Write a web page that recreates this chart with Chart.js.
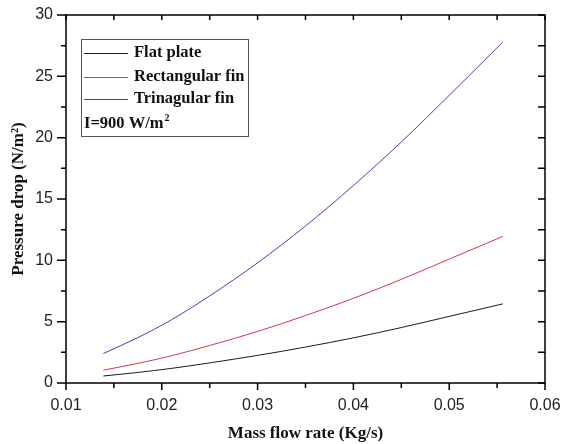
<!DOCTYPE html>
<html>
<head>
<meta charset="utf-8">
<script src="https://cdn.jsdelivr.net/npm/chart.js@4"></script>
<style>
  body { margin: 0; background: #fff; }
  #wrap { width: 573px; height: 444px; }
</style>
</head>
<body>
<div id="wrap"><canvas id="dropChart" width="573" height="444"></canvas></div>
<script>
// values
const massFlow = [0.0139, 0.0175, 0.021, 0.025, 0.03, 0.035, 0.04, 0.045, 0.05, 0.0556];
const flatPlate = [0.57, 0.86, 1.19, 1.64, 2.25, 2.93, 3.68, 4.52, 5.43, 6.45];
const rectFin = [1.05, 1.6, 2.22, 3.06, 4.2, 5.5, 6.9, 8.45, 10.1, 11.95];
const triFin = [2.4, 3.7, 5.15, 7.1, 9.8, 12.8, 16.1, 19.65, 23.45, 27.8];
const seriesNames = ['Flat plate', 'Rectangular fin', 'Trinagular fin'];
const seriesColors = ['#1a1a1a', '#d03a46', '#4040b8'];
const xTicks = [0.01, 0.02, 0.03, 0.04, 0.05, 0.06];
const yTicks = [0, 5, 10, 15, 20, 25, 30];

const serif = "'Liberation Serif', 'Times New Roman', serif";
const sans = "'Liberation Sans', Arial, sans-serif";

function pts(vals) {
  return massFlow.map((m, i) => ({ x: m, y: vals[i] }));
}

// frame + major/minor tick marks (Origin style)
const frameTicks = {
  id: 'frameTicks',
  afterDraw(c) {
    const { ctx, chartArea: { left, right, top, bottom }, scales: { x, y } } = c;
    ctx.save();
    ctx.strokeStyle = '#000';
    ctx.lineWidth = 1.5;
    ctx.strokeRect(left, top, right - left, bottom - top);
    ctx.beginPath();
    for (let i = 0; i < yTicks.length; i++) {
      const vals = [yTicks[i]];
      if (i < yTicks.length - 1) vals.push((yTicks[i] + yTicks[i + 1]) / 2);
      vals.forEach((v, k) => {
        const py = y.getPixelForValue(v);
        const len = k === 0 ? 9 : 5;
        ctx.moveTo(left - len, py); ctx.lineTo(left, py);
        ctx.moveTo(right - 7, py); ctx.lineTo(right, py);
      });
    }
    for (let i = 0; i < xTicks.length; i++) {
      const vals = [xTicks[i]];
      if (i < xTicks.length - 1) vals.push((xTicks[i] + xTicks[i + 1]) / 2);
      vals.forEach((v, k) => {
        const px = x.getPixelForValue(v);
        const len = k === 0 ? 7 : 5;
        ctx.moveTo(px, bottom); ctx.lineTo(px, bottom + len);
        ctx.moveTo(px, top); ctx.lineTo(px, top + 5);
      });
    }
    ctx.stroke();
    ctx.restore();
  }
};

// boxed legend in the upper left corner
const boxLegend = {
  id: 'boxLegend',
  afterDraw(c) {
    const { ctx, chartArea: { left, top } } = c;
    const bx = left + 15, by = top + 24;
    ctx.save();
    ctx.strokeStyle = '#555';
    ctx.lineWidth = 1;
    ctx.strokeRect(bx + 0.5, by + 0.5, 167, 97);
    const rows = [14, 38, 60];
    seriesNames.forEach((name, i) => {
      const ry = by + rows[i];
      ctx.strokeStyle = seriesColors[i];
      ctx.lineWidth = 1;
      ctx.beginPath();
      ctx.moveTo(bx + 3, ry + 0.5);
      ctx.lineTo(bx + 47, ry + 0.5);
      ctx.stroke();
    });
    ctx.font = 'bold 16.5px ' + serif;
    ctx.fillStyle = '#111';
    ctx.textBaseline = 'middle';
    seriesNames.forEach((name, i) => {
      ctx.fillText(name, bx + 53, by + rows[i]);
    });
    const iy = by + 85;
    ctx.fillText('I=900 W/m', bx + 3, iy);
    const w = ctx.measureText('I=900 W/m').width;
    ctx.font = 'bold 10px ' + serif;
    ctx.fillText('2', bx + 3 + w + 1, iy - 6);
    ctx.restore();
  }
};

new Chart(document.getElementById('dropChart').getContext('2d'), {
  type: 'line',
  data: {
    datasets: [flatPlate, rectFin, triFin].map((vals, i) => ({
      label: seriesNames[i],
      data: pts(vals),
      borderColor: seriesColors[i],
      borderWidth: 1,
      pointRadius: 0,
      fill: false,
      cubicInterpolationMode: 'monotone'
    }))
  },
  options: {
    responsive: false,
    animation: false,
    layout: { padding: { left: 0, right: 28, top: 15, bottom: 0 } },
    plugins: { legend: { display: false }, tooltip: { enabled: false } },
    scales: {
      x: {
        type: 'linear', min: 0.01, max: 0.06,
        grid: { display: false }, border: { display: false },
        afterBuildTicks: s => { s.ticks = xTicks.map(v => ({ value: v })); },
        ticks: {
          callback: v => v.toFixed(2), maxRotation: 0,
          font: { family: sans, size: 16 }, color: '#222', padding: 5
        },
        title: {
          display: true, text: 'Mass flow rate (Kg/s)', color: '#111',
          font: { family: serif, size: 17, weight: 'bold' }, padding: { top: 4, bottom: 0 }
        },
        afterFit: s => { s.height = 61; }
      },
      y: {
        type: 'linear', min: 0, max: 30,
        grid: { display: false }, border: { display: false },
        afterBuildTicks: s => { s.ticks = yTicks.map(v => ({ value: v })); },
        ticks: { font: { family: sans, size: 16 }, color: '#222', padding: 5 },
        title: {
          display: true, text: 'Pressure drop (N/m\u00b2)', color: '#111',
          font: { family: serif, size: 17, weight: 'bold' }, padding: { top: 8, bottom: 0 }
        },
        afterFit: s => { s.width = 66; }
      }
    }
  },
  plugins: [frameTicks, boxLegend]
});
</script>
</body>
</html>
